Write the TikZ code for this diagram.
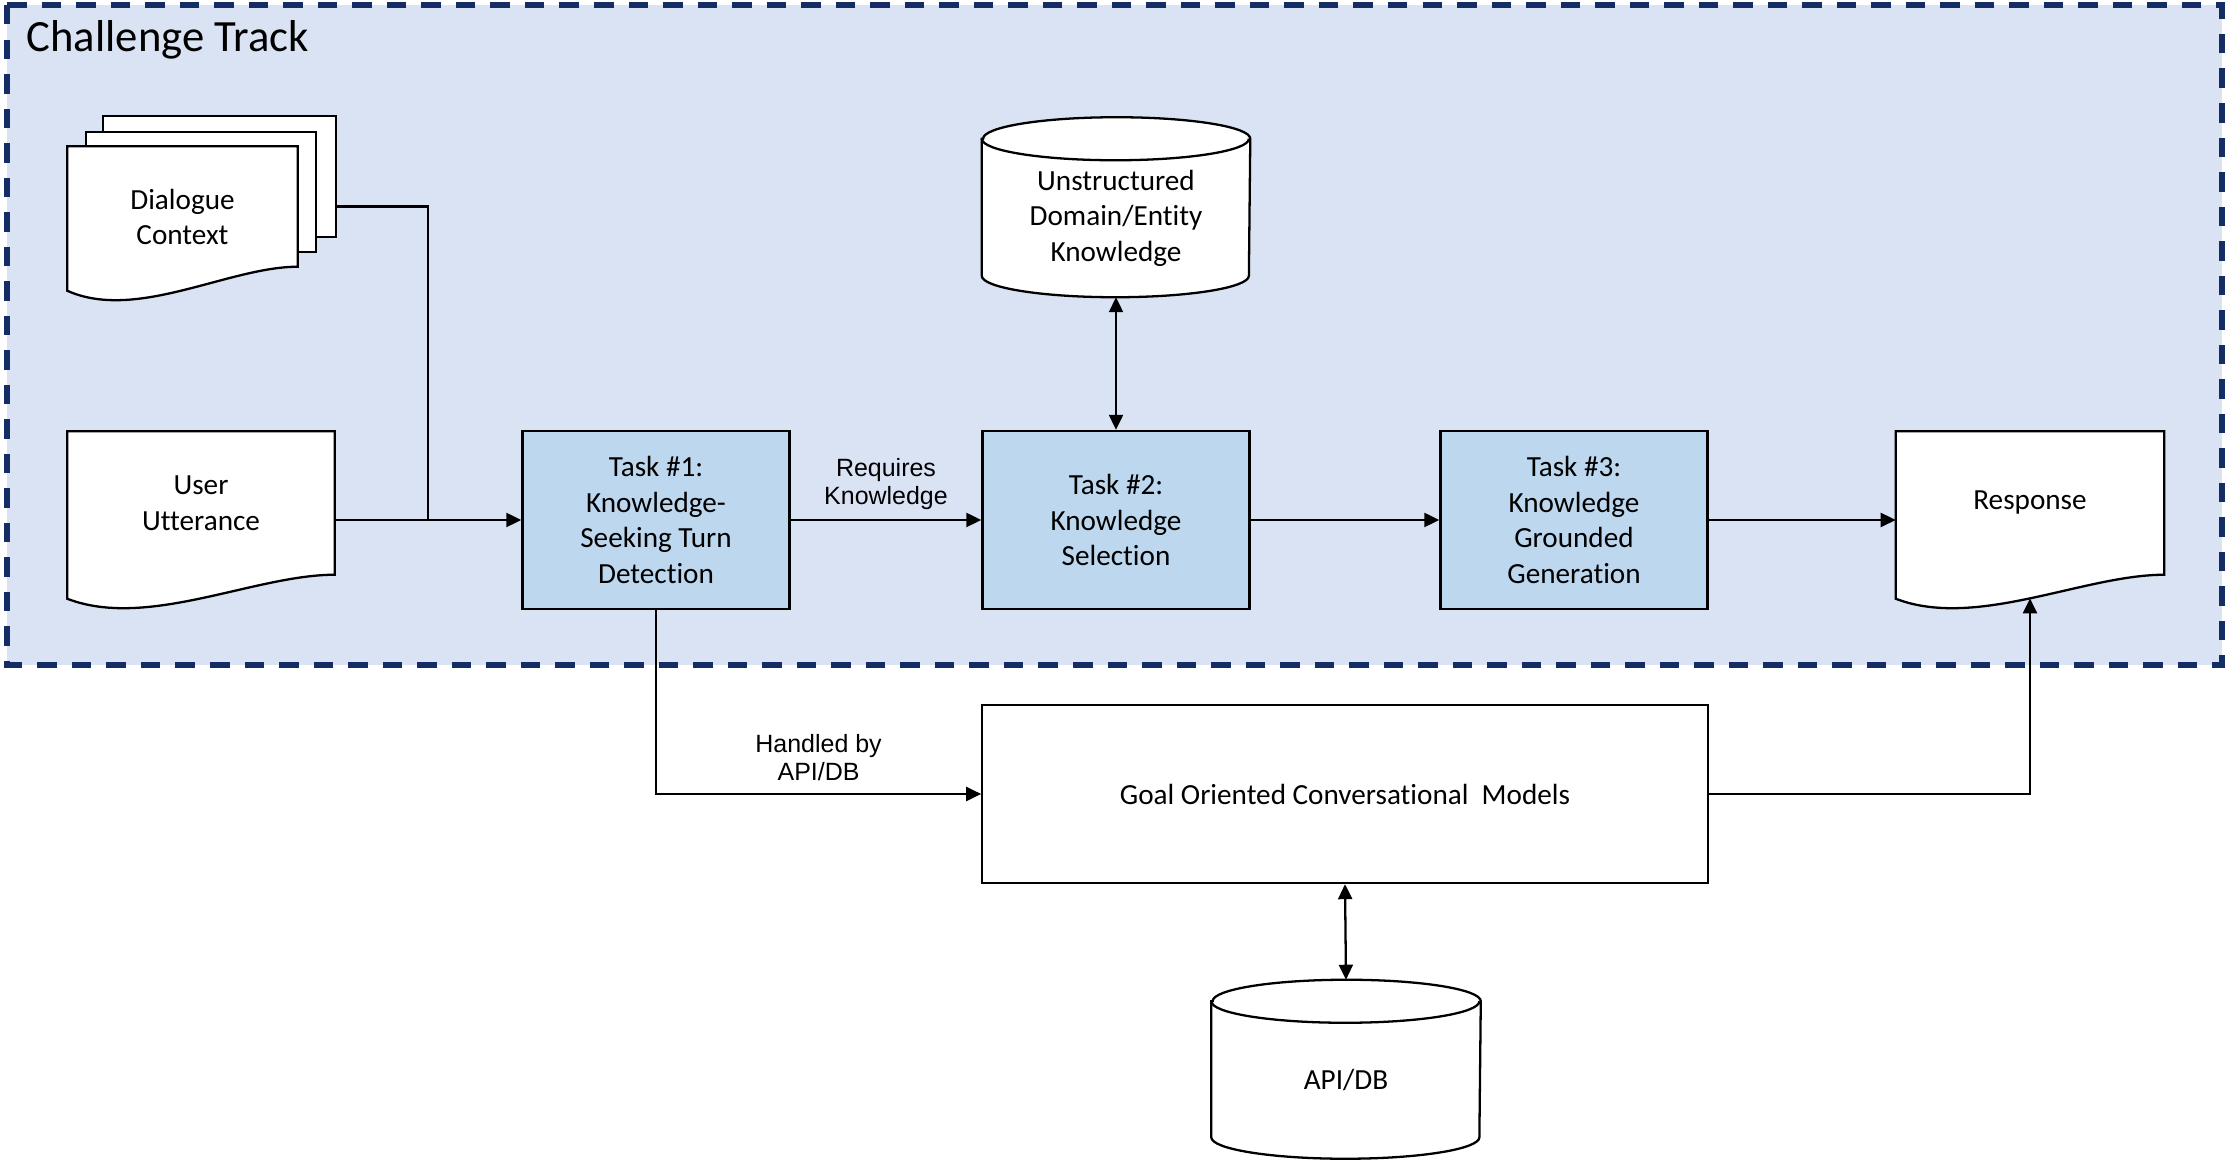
\documentclass[tikz,border=0pt]{standalone}
\usepackage{fontspec}
\setmainfont{Carlito}[Ligatures=NoCommon]
\newfontfamily\arialfont{Liberation Sans}
\usetikzlibrary{arrows.meta,calc}

\definecolor{rahmenblau}{RGB}{218,227,243}
\definecolor{rahmenlinie}{RGB}{20,45,100}
\definecolor{taskblau}{RGB}{189,215,238}

\pgfdeclarelayer{hinten}
\pgfdeclarelayer{mitte}
\pgfsetlayers{hinten,mitte,main}

\newcommand{\knotenfont}{\fontsize{8.3}{10.1}\selectfont}

\tikzset{
  kante/.style={line width=0.65pt},
  pfeil/.style={kante, -{Triangle[length=1.5mm,width=1.4mm]}},
  doppelpfeil/.style={kante, {Triangle[length=1.5mm,width=1.4mm]}-{Triangle[length=1.5mm,width=1.4mm]}},
  box/.style={draw, kante, fill=white, align=center, font=\knotenfont},
  taskbox/.style={box, fill=taskblau, minimum width=2.67cm, minimum height=1.78cm},
  halter/.style={align=center, font=\knotenfont, inner sep=0pt},
  kantentext/.style={font=\arialfont\fontsize{7.1}{8}\selectfont, align=center, inner sep=0pt},
  rahmen/.style={fill=rahmenblau, draw=rahmenlinie, line width=1.5pt, dash pattern=on 0.195cm off 0.15cm},
  titel/.style={anchor=west, inner sep=0pt, font=\fontsize{12.7}{15}\selectfont}
}

%% Formen hinter den Knoten
\newcommand{\seite}[1]{%
  \begin{pgfonlayer}{mitte}
  \draw[kante, fill=white] (#1.north west) rectangle (#1.south east);
  \end{pgfonlayer}}
\newcommand{\dokument}[1]{%
  \begin{pgfonlayer}{mitte}
  \draw[kante, fill=white] (#1.north west) -- (#1.north east) -- (#1.south east)
    .. controls ($(#1.south west)!0.7!(#1.south east)$) and ($(#1.south west)!0.3!(#1.south east)+(0,55)$)
    .. ($(#1.south west)+(0,24)$) coordinate[pos=0.5] (#1-welle) -- cycle;
  \end{pgfonlayer}}
\newcommand{\zylinder}[2]{%
  \begin{pgfonlayer}{mitte}
  \draw[kante, fill=white] ($(#1.north west)-(0,21.5)$) -- (#1.south west)
    arc[start angle=180, end angle=360, x radius=#2, y radius=0.215cm]
    -- ($(#1.north east)-(0,21.5)$)
    arc[start angle=0, end angle=180, x radius=#2, y radius=0.215cm] -- cycle;
  \draw[kante] ($(#1.north west)-(0,21.5)$) arc[start angle=180, end angle=360, x radius=#2, y radius=0.215cm];
  \end{pgfonlayer}}

\begin{document}
\begin{tikzpicture}[x=0.01cm, y=-0.01cm]
   \useasboundingbox (0,0) rectangle (2230,1168);

   %% Rahmen
   \begin{pgfonlayer}{hinten}
   \draw[rahmen] (7,5) rectangle (2222,665);
   \end{pgfonlayer}
   \node[titel] (titel) at (26,40) {Challenge Track};

   %% Dokumente
   \node[halter, minimum width=2.31cm, minimum height=1.19cm] (ctxback) at (219.5,176.5) {};
   \node[halter, minimum width=2.28cm, minimum height=1.18cm] (ctxmid) at (201,192) {};
   \node[halter, minimum width=2.29cm, minimum height=1.19cm] (ctx) at (182.5,206.5) {};
   \seite{ctxback}
   \seite{ctxmid}
   \dokument{ctx}
   \node[halter] (ctxtext) at (182.5,217) {Dialogue\\Context};

   \node[halter, minimum width=2.66cm, minimum height=1.42cm] (user) at (201,503) {User\\Utterance};
   \dokument{user}
   \node[halter, minimum width=2.67cm, minimum height=1.42cm] (resp) at (2030,503) {Response};
   \dokument{resp}

   %% Datenbanken
   \node[halter, minimum width=2.67cm, minimum height=1.14cm] (kb) at (1116,218) {Unstructured\\Domain/Entity\\Knowledge};
   \zylinder{kb}{1.335cm}
   \node[halter, minimum width=2.68cm, minimum height=1.13cm] (api) at (1346,1080) {API/DB};
   \zylinder{api}{1.34cm}

   %% Aufgaben
   \node[taskbox] (task1) at (656,520) {Task \#1:\\Knowledge-\\Seeking Turn\\Detection};
   \node[taskbox] (task2) at (1116,520) {Task \#2:\\Knowledge\\Selection};
   \node[taskbox] (task3) at (1574,520) {Task \#3:\\Knowledge\\Grounded\\Generation};
   \node[box, minimum width=7.25cm, minimum height=1.78cm] (goal) at (1345,794) {Goal Oriented Conversational\ \ Models};

   %% Pfeile
   \draw[pfeil] (user.east |- task1.west) -- (task1.west);
   \draw[kante] ([yshift=-0.3cm]ctxback.east) -| ($(user.east |- task1.west)!0.5!(task1.west)$);
   \draw[pfeil] (task1) -- node[kantentext, above=0.09cm] {Requires\\Knowledge} (task2);
   \draw[pfeil] (task2) -- (task3);
   \draw[pfeil] (task3.east) -- (task3.east -| resp.west);
   \draw[doppelpfeil] ([yshift=-0.215cm]kb.south) -- (task2.north);
   \draw[pfeil] (task1.south) |- node[kantentext, pos=0.75, above=0.12cm] {Handled by\\API/DB} (goal.west);
   \draw[pfeil] (goal.east) -| (resp-welle);
   \draw[doppelpfeil] (goal.south) -- ([yshift=0.43cm]api.north);
\end{tikzpicture}
\end{document}
